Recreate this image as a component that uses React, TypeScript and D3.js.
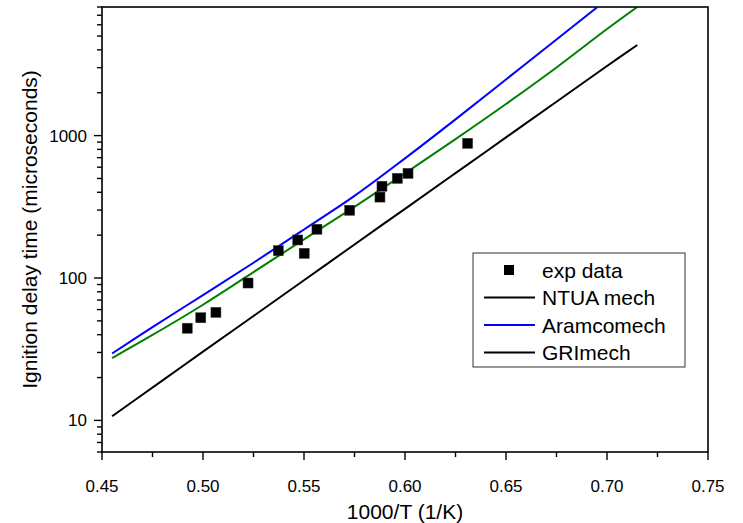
import React from "react";
import * as d3 from "d3";

// experimental points (1000/T, ignition delay in microseconds)
const expX = [0.4922, 0.4989, 0.5064, 0.5223, 0.5373, 0.5469, 0.5501, 0.5564, 0.5726, 0.5876, 0.5886, 0.5962, 0.6015, 0.631];
const expY = [44.4, 52.6, 57.4, 92.2, 155.5, 185, 149, 220, 299, 370, 441, 501, 543, 883];

// model curves
const aramcoX = [0.455, 0.475, 0.5, 0.525, 0.55, 0.575, 0.6, 0.625, 0.65, 0.675, 0.695];
const aramcoY = [29.5, 45.2, 75.9, 128, 219, 377, 692, 1300, 2480, 4730, 7940];

const ntuaX = [0.455, 0.475, 0.5, 0.525, 0.55, 0.575, 0.6, 0.625, 0.65, 0.675, 0.7, 0.715];
const ntuaY = [27.4, 39.8, 64.9, 110, 187, 316, 543, 944, 1667, 3010, 5600, 8000];

const griX = [0.455, 0.48, 0.5, 0.525, 0.55, 0.575, 0.6, 0.625, 0.65, 0.675, 0.7, 0.715];
const griY = [10.7, 19.1, 30.4, 54.1, 96.4, 172, 306, 545, 971, 1730, 3080, 4330];

const xTicks = [0.45, 0.5, 0.55, 0.6, 0.65, 0.7, 0.75];
const xMinor = [0.475, 0.525, 0.575, 0.625, 0.675, 0.725];
const yTicks = [10, 100, 1000];

const legendItems = [
  { label: "exp data", kind: "square", color: "#000" },
  { label: "NTUA mech", kind: "line", color: "#000" },
  { label: "Aramcomech", kind: "line", color: "#0000ff" },
  { label: "GRImech", kind: "line", color: "#000" },
];

const W = 743;
const H = 523;
const left = 102, right = 708, top = 7, bottom = 452;
const font = "'Liberation Sans', Arial, sans-serif";

export default function App() {
  const x = d3.scaleLinear().domain([0.45, 0.75]).range([left, right]);
  const y = d3.scaleLog().domain([6, 8000]).range([bottom, top]);

  const yMinor: number[] = [];
  [1, 10, 100, 1000].forEach((dec) => {
    for (let k = 2; k <= 9; k++) {
      const v = dec * k;
      if (v >= 6 && v <= 8000) yMinor.push(v);
    }
  });

  const lineGen = (xs: number[], ys: number[]) =>
    d3
      .line<number>()
      .x((d, i) => x(xs[i]))
      .y((d) => y(d))
      .curve(d3.curveCatmullRom)(ys) || "";

  const curves = [
    { xs: griX, ys: griY, color: "#000000" },
    { xs: ntuaX, ys: ntuaY, color: "#008000" },
    { xs: aramcoX, ys: aramcoY, color: "#0000ff" },
  ];

  const sq = 10;

  return (
    <svg
      width={W}
      height={H}
      style={{ position: "absolute", left: 0, top: 0, background: "#fff" }}
      fontFamily={font}
    >
      <defs>
        <clipPath id="plot">
          <rect x={left} y={top} width={right - left} height={bottom - top} />
        </clipPath>
      </defs>

      <g clipPath="url(#plot)">
        {curves.map((c, i) => (
          <path key={i} d={lineGen(c.xs, c.ys)} fill="none" stroke={c.color} strokeWidth={2} />
        ))}
      </g>

      {expY.map((v, i) => (
        <rect
          key={i}
          x={x(expX[i]) - sq / 2}
          y={y(v) - sq / 2}
          width={sq}
          height={sq}
          fill="#000"
          stroke="#333"
          strokeWidth={0.5}
        />
      ))}

      {/* frame */}
      <rect x={left} y={top} width={right - left} height={bottom - top} fill="none" stroke="#000" strokeWidth={1.6} />

      {/* x ticks */}
      {xTicks.map((t) => (
        <g key={t}>
          <line x1={x(t)} x2={x(t)} y1={bottom} y2={bottom + 8} stroke="#000" strokeWidth={1.4} />
          <text x={x(t)} y={bottom + 40} textAnchor="middle" fontSize={17}>
            {t.toFixed(2)}
          </text>
        </g>
      ))}
      {xMinor.map((t) => (
        <line key={t} x1={x(t)} x2={x(t)} y1={bottom} y2={bottom + 5} stroke="#000" strokeWidth={1.4} />
      ))}

      {/* y ticks */}
      {yTicks.map((t) => (
        <g key={t}>
          <line x1={left - 8} x2={left} y1={y(t)} y2={y(t)} stroke="#000" strokeWidth={1.4} />
          <text x={left - 15} y={y(t)} dy="0.35em" textAnchor="end" fontSize={17}>
            {t}
          </text>
        </g>
      ))}
      {yMinor.map((t) => (
        <line key={t} x1={left - 5} x2={left} y1={y(t)} y2={y(t)} stroke="#000" strokeWidth={1.4} />
      ))}

      <text x={(left + right) / 2} y={519} textAnchor="middle" fontSize={21}>
        1000/T (1/K)
      </text>
      <text
        transform={`translate(37,${(top + bottom) / 2}) rotate(-90)`}
        textAnchor="middle"
        fontSize={21}
      >
        Ignition delay time (microseconds)
      </text>

      {/* legend */}
      <g transform="translate(473,253)">
        <rect x={0} y={0} width={212} height={114} fill="#fff" stroke="#333" strokeWidth={1} />
        {legendItems.map((it, i) => {
          const cy = 17 + i * 27.5;
          return (
            <g key={it.label}>
              {it.kind === "square" ? (
                <rect x={36 - sq / 2} y={cy - sq / 2} width={sq} height={sq} fill={it.color} />
              ) : (
                <line x1={11} x2={62} y1={cy} y2={cy} stroke={it.color} strokeWidth={2} />
              )}
              <text x={69} y={cy} dy="0.36em" fontSize={21}>
                {it.label}
              </text>
            </g>
          );
        })}
      </g>
    </svg>
  );
}
